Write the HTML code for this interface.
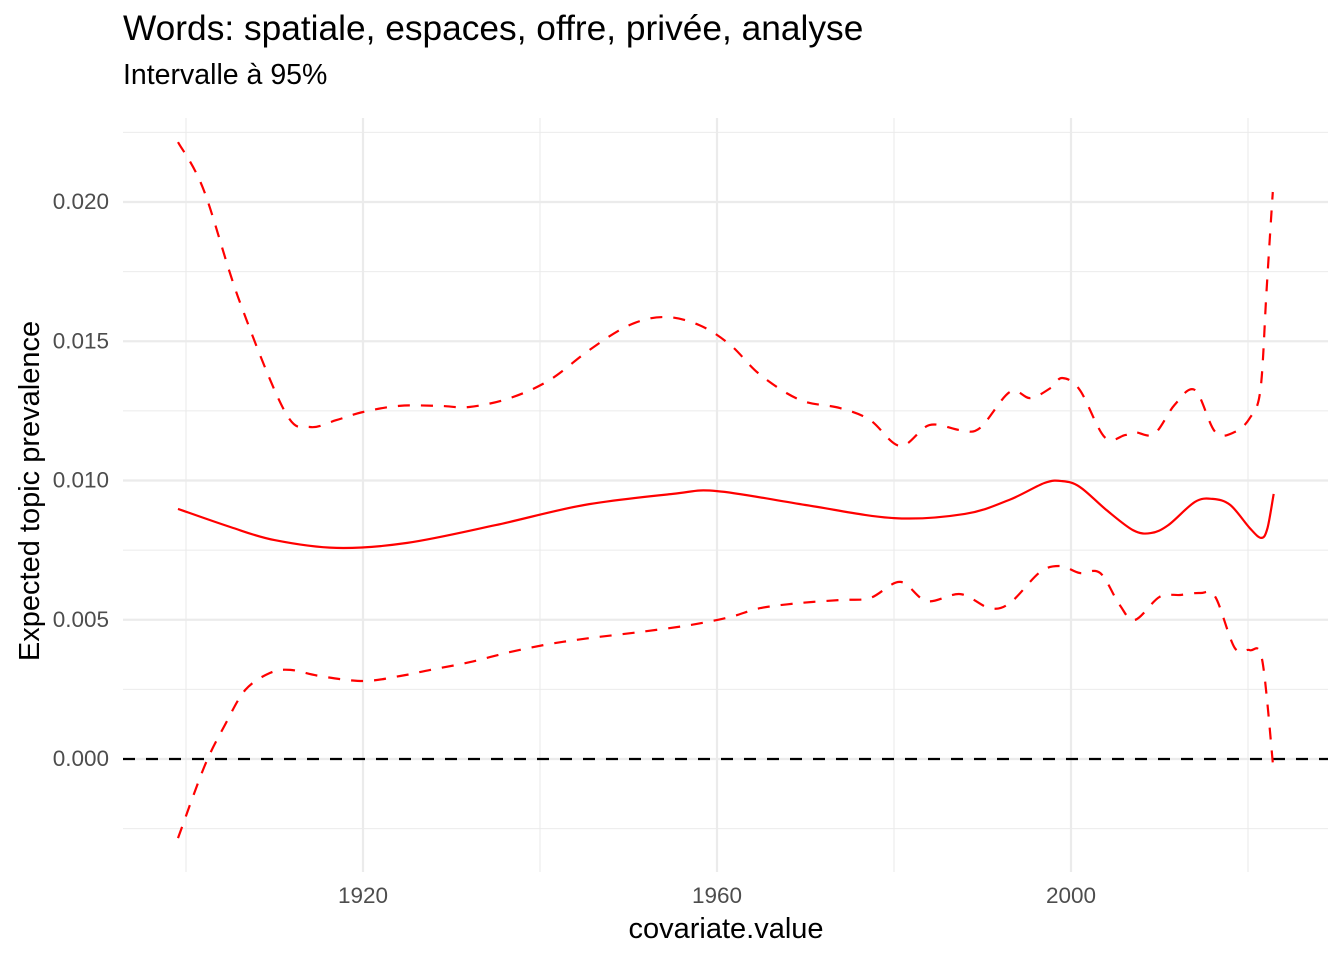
<!DOCTYPE html>
<html><head><meta charset="utf-8"><style>
body{margin:0;background:#fff;font-family:"Liberation Sans",sans-serif}
</style></head><body>
<svg id="c" width="1344" height="960" xmlns="http://www.w3.org/2000/svg">
<text x="123" y="40" font-size="35.3" fill="#000" font-family="Liberation Sans, sans-serif">Words: spatiale, espaces, offre, privée, analyse</text>
<text x="123" y="84" font-size="28.5" fill="#000" font-family="Liberation Sans, sans-serif">Intervalle à 95%</text>
<g id="grid"></g>
<g id="marks"></g>
<g id="axes"></g>
<text x="726" y="938" font-size="29" text-anchor="middle" font-family="Liberation Sans, sans-serif">covariate.value</text>
<text transform="translate(39,491) rotate(-90)" font-size="29" text-anchor="middle" font-family="Liberation Sans, sans-serif">Expected topic prevalence</text>
</svg>
<script>
const yearsMean=[1899.1,1905,1910,1917,1925,1935,1945,1955,1960,1970,1980,1988,1993,1997,1999,2001,2004,2007,2009,2011,2014,2016,2018,2020.2,2021.5,2022.2,2022.9];
const meanVals=[0.00898,0.00833,0.00786,0.00758,0.00776,0.0084,0.00912,0.00952,0.00962,0.00912,0.00865,0.0088,0.0093,0.00991,0.00998,0.00977,0.00894,0.00822,0.00811,0.0084,0.00923,0.00934,0.00912,0.00829,0.00794,0.00829,0.00952];
const yearsUpper=[1899.1,1902,1906,1911.2,1914,1917,1920,1924.1,1928.6,1932,1936.6,1941.1,1945.6,1950.1,1954.1,1958,1961.5,1964.9,1969.4,1973.9,1977.3,1980.7,1984,1987.5,1989.7,1993.1,1995.4,1997.7,1999,2001,2003.8,2006.1,2007.2,2009.4,2011.7,2014,2016.3,2018.5,2020.2,2021.4,2022.1,2022.8];
const upperVals=[0.02215,0.02043,0.01648,0.01246,0.01192,0.01217,0.01246,0.01268,0.01268,0.01264,0.01296,0.01361,0.01469,0.01558,0.01587,0.01558,0.01487,0.01379,0.01289,0.0126,0.01217,0.01124,0.01199,0.01181,0.01188,0.01318,0.01296,0.01332,0.01368,0.01325,0.01156,0.01163,0.01174,0.01167,0.01271,0.01325,0.01174,0.01174,0.01224,0.01325,0.01684,0.02036];
const yearsLower=[1899.1,1902.1,1904.4,1906.7,1909.5,1911.8,1915.1,1920,1924.2,1927.6,1932.1,1936.6,1941.1,1945.6,1951.3,1957,1961.5,1964.9,1969.4,1973.9,1977.3,1980.7,1983.7,1987.5,1990.8,1993.1,1996.5,1998.8,2001,2003.3,2005.5,2007.2,2010,2012.3,2014.6,2016.3,2018.5,2020.2,2021.6,2022.9];
const lowerVals=[-0.00284,-0.00025,0.00122,0.00248,0.00309,0.0032,0.00298,0.0028,0.00298,0.0032,0.00348,0.00384,0.00413,0.00434,0.00456,0.00481,0.0051,0.00542,0.0056,0.00571,0.00578,0.00636,0.00567,0.00592,0.00542,0.0056,0.00671,0.00693,0.00668,0.00668,0.00553,0.00499,0.00582,0.00589,0.00596,0.00582,0.00399,0.00391,0.00355,-0.00047];
const xTicks=[1920,1960,2000];
const xMinor=[1900,1940,1980,2020];
const yTicks=[0,0.005,0.01,0.015,0.02];
const yTickLabels=["0.000","0.005","0.010","0.015","0.020"];
const yMinor=[-0.0025,0.0025,0.0075,0.0125,0.0175,0.0225];

const NS="http://www.w3.org/2000/svg";
const X=v=>363+(v-1920)*8.85;
const Y=v=>759-v/0.005*139.25;
const L=123,R=1328,T=118,B=872;
function mk(tag,attrs,parent){const e=document.createElementNS(NS,tag);for(const k in attrs)e.setAttribute(k,attrs[k]);document.getElementById(parent).appendChild(e);return e;}
yMinor.forEach(v=>{const e=mk('line',{x1:L,x2:R,y1:Y(v),y2:Y(v),stroke:'#ebebeb','stroke-width':1.1},'grid');

});
xMinor.forEach(v=>{const e=mk('line',{x1:X(v),x2:X(v),y1:T,y2:B,stroke:'#ebebeb','stroke-width':1.1},'grid');

});
yTicks.forEach((v,i)=>{const e=mk('line',{x1:L,x2:R,y1:Y(v),y2:Y(v),stroke:'#ebebeb','stroke-width':2.2},'grid');


const t=mk('text',{x:109,y:Y(v)+7,'font-size':22.5,fill:'#4d4d4d','text-anchor':'end','font-family':'Liberation Sans, sans-serif'},'axes');t.textContent=yTickLabels[i];

});
xTicks.forEach(v=>{const e=mk('line',{x1:X(v),x2:X(v),y1:T,y2:B,stroke:'#ebebeb','stroke-width':2.2},'grid');


const t=mk('text',{x:X(v),y:903,'font-size':22.5,fill:'#4d4d4d','text-anchor':'middle','font-family':'Liberation Sans, sans-serif'},'axes');t.textContent=v;

});
const z=mk('line',{x1:L,x2:R,y1:Y(0),y2:Y(0),stroke:'#000','stroke-width':2.2,'stroke-dasharray':'12,11'},'marks');


function pathD(xs,ys,smooth){
  const P=xs.map((x,i)=>[X(x),Y(ys[i])]);
  if(!smooth) return P.map((p,i)=>(i?'L':'M')+p[0].toFixed(1)+','+p[1].toFixed(1)).join('');
  let d='M'+P[0][0].toFixed(1)+','+P[0][1].toFixed(1);
  for(let i=0;i<P.length-1;i++){
    const p0=P[Math.max(0,i-1)],p1=P[i],p2=P[i+1],p3=P[Math.min(P.length-1,i+2)];
    const c1=[p1[0]+(p2[0]-p0[0])/6,p1[1]+(p2[1]-p0[1])/6];
    const c2=[p2[0]-(p3[0]-p1[0])/6,p2[1]-(p3[1]-p1[1])/6];
    d+='C'+c1.map(n=>n.toFixed(1)).join(',')+' '+c2.map(n=>n.toFixed(1)).join(',')+' '+p2.map(n=>n.toFixed(1)).join(',');
  }
  return d;
}
function line(xs,ys,name,dash,smooth){
const p=mk('path',{d:pathD(xs,ys,smooth),fill:'none',stroke:'#ff0000','stroke-width':2.2},'marks');if(dash)p.setAttribute('stroke-dasharray','12,11');

}
line(yearsUpper,upperVals,'upper-ci-line',true,true);
line(yearsLower,lowerVals,'lower-ci-line',true,true);
line(yearsMean,meanVals,'mean-line',false,true);
</script>
</body></html>
